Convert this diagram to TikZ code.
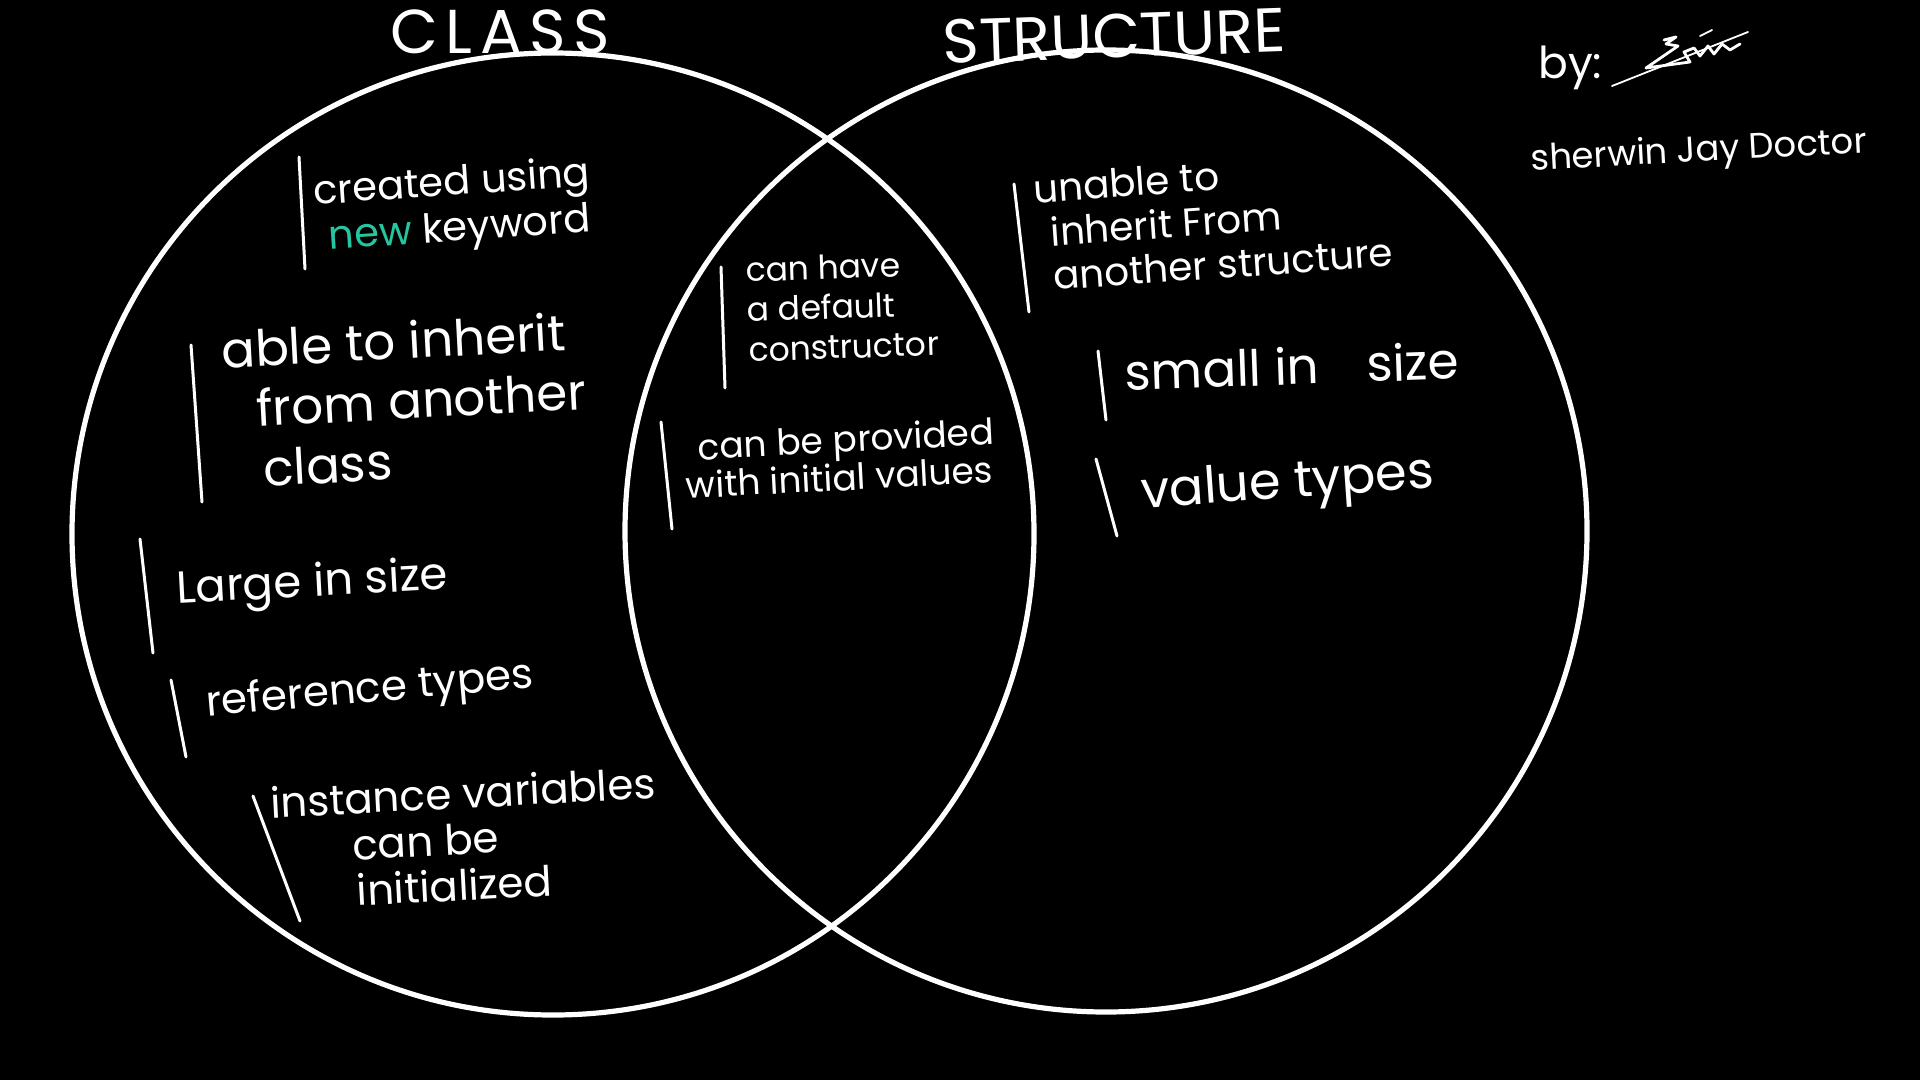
\documentclass[tikz,border=0pt]{standalone}
\usepackage{fontspec}
\setmainfont{Poppins}
\usetikzlibrary{positioning}
\definecolor{keyteal}{RGB}{38,196,160}

\begin{document}
\begin{tikzpicture}
[
  x=0.5pt, y=-0.5pt,
  ring/.style={draw=white, line width=2.6pt},
  bar/.style={draw=white, line width=1.5pt, line cap=round},
  note/.style={text=white, align=left, anchor=north west, inner sep=0pt},
  title/.style={text=white, inner sep=0pt, font=\fontsize{31}{36}\selectfont}
]
 \fill[black] (0,0) rectangle (1920,1080);
 \useasboundingbox (0,0) rectangle (1920,1080);

 % the two sets
 \draw[ring] (553,534) circle[radius=481];
 \draw[ring] (1106,531) circle[radius=481];
 \node[title] (class) at (500,32) {\addfontfeature{LetterSpace=12}CLASS};
 \node[title, rotate=2] (struct) at (1114,36) {STRUCTURE};

 % class only
 \node[note, rotate=4, font=\fontsize{20}{23}\selectfont] (created) at (312,174)
   {created using\\\hspace{6pt}\textcolor{keyteal}{new} keyword};
 \node[note, rotate=3, font=\fontsize{25}{30}\selectfont] (inherit) at (220,330)
   {able to inherit\\\hspace{16pt}from another\\\hspace{18pt}class};
 \node[note, rotate=3, font=\fontsize{22.5}{26}\selectfont] (large) at (175,569) {Large in size};
 \node[note, rotate=5, font=\fontsize{21}{24}\selectfont] (reftypes) at (204,684) {reference types};
 \node[note, rotate=3, font=\fontsize{21}{23}\selectfont] (instvars) at (269,786)
   {instance variables\\\hspace{40pt}can be\\\hspace{41pt}initialized};

 % both
 \node[note, rotate=2, font=\fontsize{16.5}{20}\selectfont] (ctor) at (745,257)
   {can have\\a default\\constructor};
 \node[note, rotate=3, font=\fontsize{18}{19}\selectfont] (initvals) at (683,433)
   {\hspace{7pt}can be provided\\with initial values};

 % structure only
 \node[note, rotate=4, font=\fontsize{19.5}{22}\selectfont] (noinherit) at (1032,174)
   {unable to\\\hspace{7pt}inherit From\\\hspace{7pt}another structure};
 \node[note, rotate=2, font=\fontsize{25}{28}\selectfont] (small) at (1124,352) {small in\hspace{24pt}size};
 \node[note, rotate=4, font=\fontsize{25.5}{28}\selectfont] (valtypes) at (1139,470) {value types};

 % side bars
 \foreach \xa/\ya/\xb/\yb in {299/157/305/269, 191/345/202/502, 140/539/153/653,
     171/680/186/757, 253/796/300/921, 721/267/725/388, 661/422/672/529,
     1014/184/1029/312, 1098/351/1106/420, 1096/459/1117/536}
   \draw[bar] (\xa,\ya) -- (\xb,\yb);

 % author
 \node[note, font=\fontsize{22}{26}\selectfont] (by) at (1538,46) {by:};
 \node[note, rotate=3, font=\fontsize{17.7}{20}\selectfont] (author) [below=26pt of by.south west, anchor=north west, xshift=-4pt] {sherwin Jay Doctor};
 \draw[white, line width=0.9pt, line cap=round] (1612,86) -- (1748,32);
 \draw[white, line width=1.4pt, line cap=round, line join=round]
   (1664,40) -- (1676,37) -- (1666,44) -- (1678,46) -- (1646,68) -- (1690,62)
   -- (1684,52) -- (1694,48) -- (1700,56) -- (1708,46) -- (1714,54) -- (1722,44)
   -- (1730,50) -- (1740,44);
 \draw[white, line width=0.9pt, line cap=round] (1700,36) -- (1712,30);
\end{tikzpicture}
\end{document}
